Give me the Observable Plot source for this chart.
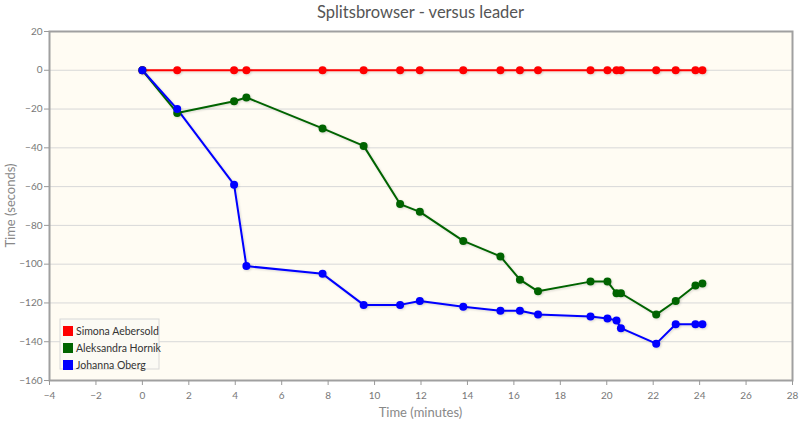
<!DOCTYPE html>
<html>
<head>
<meta charset="utf-8">
<script src="https://cdn.jsdelivr.net/npm/d3@7"></script>
<script src="https://cdn.jsdelivr.net/npm/@observablehq/plot@0.6"></script>
<style>
  body { margin: 0; background: #fff; }
  #chart { width: 800px; height: 433px; }
</style>
</head>
<body>
<div id="chart"></div>
<script>
const titleText = "Splitsbrowser - versus leader";
const xLabel = "Time (minutes)";
const yLabel = "Time (seconds)";
const xTicks = d3.range(-4, 29, 2);
const yTicks = d3.range(-160, 21, 20);

const controlTimes = [0, 1.50, 3.95, 4.48, 7.76, 9.53, 11.10, 11.95, 13.82, 15.42, 16.26, 17.04, 19.30, 20.03, 20.42, 20.61, 22.13, 22.97, 23.82, 24.12];
const competitors = ["Simona Aebersold", "Aleksandra Hornik", "Johanna Oberg"];
const colors = ["#ff0000", "#006400", "#0000ff"];
const simona = [0, 0, 0, 0, 0, 0, 0, 0, 0, 0, 0, 0, 0, 0, 0, 0, 0, 0, 0, 0];
const aleksandra = [0, -22, -16, -14, -30, -39, -69, -73, -88, -96, -108, -114, -109, -109, -115, -115, -126, -119, -111, -110];
const johanna = [0, -20, -59, -101, -105, -121, -121, -119, -122, -124, -124, -126, -127, -128, -129, -133, -141, -131, -131, -131];

const seriesValues = [simona, aleksandra, johanna];
const data = [];
seriesValues.forEach((vals, si) => {
  vals.forEach((v, i) => data.push({name: competitors[si], t: controlTimes[i], v}));
});

const W = 800, H = 433;
const mL = 49, mR = 8, mT = 31, mB = 53;
const font = "Lato, 'DejaVu Sans', sans-serif";

const plot = Plot.plot({
  width: W, height: H,
  marginLeft: mL, marginRight: mR, marginTop: mT, marginBottom: mB,
  style: {fontFamily: font, fontSize: "10px", color: "#666", background: "transparent"},
  x: {domain: [-4, 28], ticks: xTicks, label: null},
  y: {domain: [-160, 20], ticks: yTicks, label: null},
  color: {domain: competitors, range: colors},
  marks: [
    Plot.frame({fill: "#fffcf3", stroke: null}),
    Plot.gridY(yTicks, {stroke: "#d8d8d8", strokeOpacity: 1, strokeWidth: 1}),
    Plot.frame({stroke: "#a0a0a0", strokeWidth: 2}),
    Plot.axisX({ticks: xTicks, tickSize: 5, tickPadding: 6, stroke: "#999", fill: "#777", fontSize: 10}),
    Plot.axisY({ticks: yTicks, tickSize: 5, tickPadding: 2, stroke: "#999", fill: "#777", fontSize: 10}),
    Plot.line(data, {x: "t", y: "v", z: "name", stroke: "name", strokeWidth: 2}),
    Plot.dot(data, {x: "t", y: "v", fill: "name", r: 4, stroke: null})
  ]
});

document.getElementById("chart").appendChild(plot);

const svg = d3.select(plot);
const defs = svg.insert("defs", ":first-child");
const f = defs.append("filter").attr("id", "shadow").attr("x", "-10%").attr("y", "-10%").attr("width", "120%").attr("height", "130%");
f.append("feDropShadow").attr("dx", 1).attr("dy", 1).attr("stdDeviation", 1).attr("flood-color", "#000").attr("flood-opacity", 0.15);
svg.selectAll("g[aria-label='line'], g[aria-label='dot']").attr("filter", "url(#shadow)");

// title
svg.append("text").attr("x", (mL + W - mR) / 2).attr("y", 18)
  .attr("text-anchor", "middle").attr("font-family", font).attr("font-size", 16.5)
  .attr("fill", "#555").text(titleText);
// axis labels
svg.append("text").attr("x", (mL + W - mR) / 2).attr("y", 417)
  .attr("text-anchor", "middle").attr("font-family", font).attr("font-size", 13)
  .attr("fill", "#888").text(xLabel);
svg.append("text").attr("transform", `translate(15,${(mT + H - mB) / 2}) rotate(-90)`)
  .attr("text-anchor", "middle").attr("font-family", font).attr("font-size", 13)
  .attr("fill", "#888").text(yLabel);

// legend
const lg = svg.append("g").attr("transform", "translate(60,319)");
lg.append("rect").attr("width", 99).attr("height", 50).attr("fill", "#fbfaf4")
  .attr("stroke", "#d8d8d8").attr("stroke-width", 1);
competitors.forEach((name, i) => {
  const g = lg.append("g").attr("transform", `translate(0,${7 + i * 17})`);
  g.append("rect").attr("x", 3).attr("y", 0).attr("width", 10).attr("height", 10).attr("fill", colors[i]);
  g.append("text").attr("x", 16).attr("y", 9).attr("text-anchor", "start").attr("font-family", font).attr("font-size", 10.5)
    .attr("fill", "#333").text(name);
});
</script>
</body>
</html>
